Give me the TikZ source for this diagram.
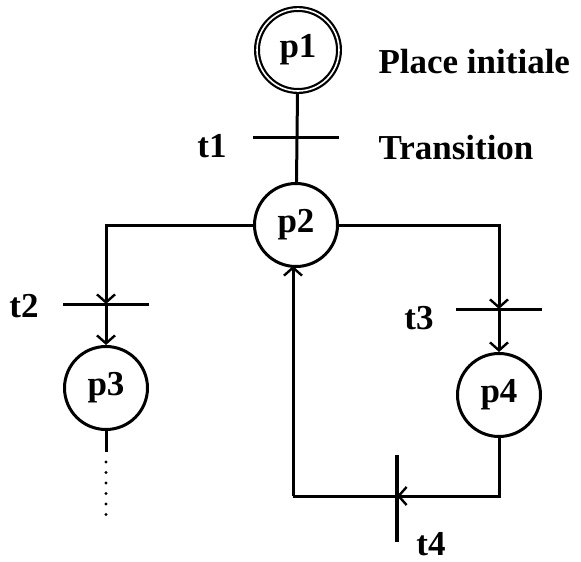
\documentclass[tikz,border=0pt]{standalone}
\usepackage{fontspec}
\setmainfont{Liberation Serif}
\usetikzlibrary{arrows.meta}
\begin{document}
\begin{tikzpicture}[x=1pt,y=-1pt,
  line width=3pt,
  txt/.style={font=\fontsize{35}{40}\selectfont\bfseries},
  place/.style={circle,draw,line width=3pt,minimum size=83pt,inner sep=0pt,txt},
  initplace/.style={circle,draw,line width=2.2pt,double,double distance=1.6pt,minimum size=82pt,inner sep=0pt,txt},
  hbar/.style={rectangle,fill=black,inner sep=0pt,minimum width=86pt,minimum height=3pt},
  vbar/.style={rectangle,fill=black,inner sep=0pt,minimum width=3.6pt,minimum height=87pt},
  lbl/.style={txt,inner sep=0pt},
  arr/.style={-{Straight Barb[length=8pt,width=18pt,line width=2.4pt]}}
]
\useasboundingbox (0,0) rectangle (581,562);
% places
\node[initplace] (p1) at (298,50) {p1};
\node[place] (p2) at (296,225) {p2};
\node[place] (p3) at (106,388) {p3};
\node[place] (p4) at (499,395) {p4};
% transitions
\node[hbar] (t1) at (296,137) {};
\node[hbar] (t2) at (106,304) {};
\node[hbar] (t3) at (499,309) {};
\node[vbar] (t4) at (397,498) {};
\coordinate (t4in) at (397,496);
\coordinate (ret) at (293,496);
\coordinate (p2in) at (293,266);
\coordinate (p3end) at (106,452);
\coordinate (dot1) at (106,462);
\coordinate (dot2) at (106,515);
% labels
\node[lbl] (lt1) at (212,146) {t1};
\node[lbl] (lt2) at (24,306) {t2};
\node[lbl] (lt3) at (419,318) {t3};
\node[lbl] (lt4) at (431,544) {t4};
\node[lbl,anchor=west] (lpi) at (377,62) {Place initiale};
\node[lbl,anchor=west] (ltr) at (377,148) {Transition};
% arcs
\draw (p1) -- (p2);
\draw[arr] (p2.west) -| (t2.center);
\draw[arr] (t2.center) -- (p3.north);
\draw[arr] (p2.east) -| (t3.center);
\draw[arr] (t3.center) -- (p4.north);
\draw[arr] (p4.south) |- (t4in);
\draw (t4in) -- (ret);
\draw[arr] (ret) -- (p2in);
\draw (p3.south) -- (p3end);
\draw[line width=3.4pt,line cap=round,dash pattern=on 0pt off 10.5pt] (dot1) -- (dot2);
\end{tikzpicture}
\end{document}
